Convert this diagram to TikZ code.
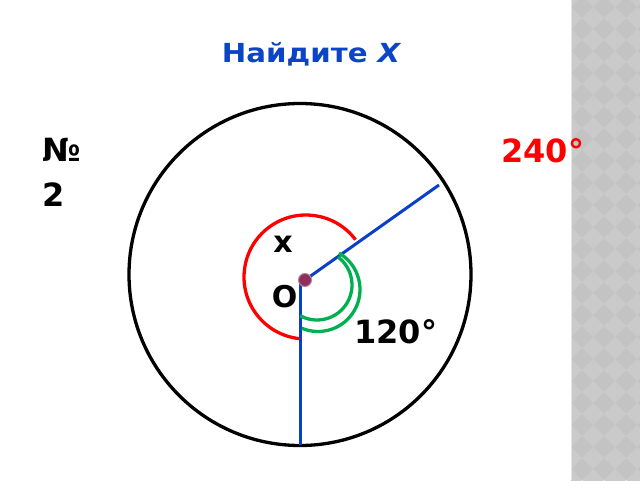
\documentclass[tikz,border=0pt]{standalone}
\usepackage{fontspec}
\setmainfont{DejaVu Sans}
\usepackage{graphicx}
\usepackage{tikz}
\usetikzlibrary{calc}
\usetikzlibrary{positioning}
\definecolor{TitleBlue}{HTML}{0B44C4}
\definecolor{LineBlue}{HTML}{0A40C8}
\definecolor{AngleGreen}{HTML}{00B050}
\definecolor{DotRed}{HTML}{8E2E5A}
\definecolor{StripDark}{HTML}{C3C3C3}
\definecolor{StripLight}{HTML}{CACACA}

\begin{document}
\begin{tikzpicture}[
		x=1pt, y=1pt,
		every node/.style={inner sep=0pt, font=\bfseries\fontsize{32}{38}\selectfont},
		radius line/.style = {line width=3pt, LineBlue},
		arc red/.style = {line width=3.3pt, red},
		arc green/.style = {line width=3.3pt, AngleGreen},
		label left/.style = {anchor=base west}
	]
	\useasboundingbox (0,0) rectangle (640,480);
	\fill[white] (0,0) rectangle (640,480);
	
	% gray strip on the right
	\begin{scope}
		\clip (571,0) rectangle (640,480);
		\fill[StripDark] (571,0) rectangle (640,480);
		\foreach \i in {0,...,4}
		\foreach \j in {0,...,22}
		\fill[StripLight] (571+22*\i,22*\j) ++(-11,0) -- ++(11,11) -- ++(11,-11) -- ++(-11,-11) -- cycle;
	\end{scope}
	\draw[line width=1.5pt, gray!20] (571.5,0) -- (571.5,480);
	
	% circle and radii
	\coordinate(O) at (305,200);
	\coordinate(A) at (439,295);
	\coordinate(B) at (300,35);
	\draw[line width=3.3pt] (300,205.5) circle[radius=171];
	\draw[radius line] (O) -- (A);
	\draw[radius line] (300,198) -- (B);
	
	% angle marks
	\draw[arc red] (306,203) ++(37:62) arc[start angle=37, end angle=264, radius=62];
	\draw[arc green] (318,190.5) ++(60:42) arc[start angle=60, end angle=-112.6, radius=42];
	\draw[arc green] (317,195) ++(53:35) arc[start angle=53, end angle=-118.7, radius=35];
	\fill[DotRed, draw=DotRed!60!white, line width=1pt] (O) circle[radius=6.5];
	
	% texts
	\node(title) at (311.7,417.7)[anchor=base, TitleBlue, font=\bfseries\fontsize{25}{30}\selectfont] {\scalebox{1.17}[1.05]{Найдите \textit{X}}};
	\node(num) at (42,318.3)[label left] {№};
	\node(numtwo) at ($(num.base west)+(0,-45)$)[label left] {2};
	\node(big) at (501,317.7)[label left, red] {240°};
	\node(small) at (354,136.7)[label left] {120°};
	\node(x) at (283,228)[anchor=base, font=\bfseries\fontsize{30}{36}\selectfont] {x};
	\node(o) at (284.5,173)[anchor=base, font=\bfseries\fontsize{30}{36}\selectfont] {O};
\end{tikzpicture}
\end{document}
